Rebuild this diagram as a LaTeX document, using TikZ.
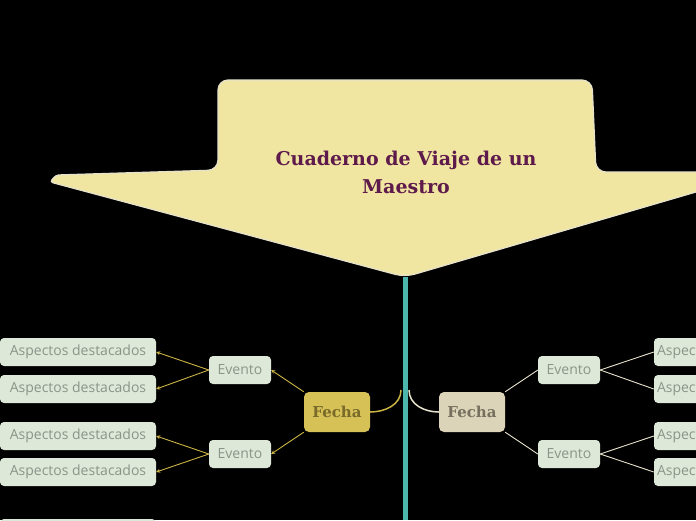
\documentclass[tikz,border=0pt]{standalone}
\usepackage{fontspec}
\setmainfont{Open Sans}
\newfontfamily\titlefont{DejaVu Serif}
\usetikzlibrary{arrows.meta}
\definecolor{bannerfill}{HTML}{F0E6A2}
\definecolor{titlecol}{HTML}{5E1A4A}
\definecolor{trunk}{HTML}{4DB6AC}
\definecolor{goldfill}{HTML}{D6C157}
\definecolor{goldtext}{HTML}{7A6A2A}
\definecolor{beigefill}{HTML}{DCD4B8}
\definecolor{beigetext}{HTML}{77705F}
\definecolor{leaffill}{HTML}{DDE8D8}
\definecolor{leaftext}{HTML}{8A9488}
\definecolor{goldline}{HTML}{CBB445}
\definecolor{paleline}{HTML}{E6E2CC}
\begin{document}
\begin{tikzpicture}[
		x=1pt, y=-1pt,
		fecha/.style={rectangle, rounded corners=5pt, minimum width=66pt, minimum height=40pt, font=\titlefont\bfseries\fontsize{15}{17}\selectfont},
		evento/.style={rectangle, rounded corners=4pt, fill=leaffill, text=leaftext, minimum width=62pt, minimum height=28pt, inner xsep=2pt, font=\fontsize{14}{16}\selectfont},
		aspecto/.style={rectangle, rounded corners=4pt, fill=leaffill, text=leaftext, minimum width=156pt, minimum height=28pt, inner xsep=2pt, font=\fontsize{14}{16}\selectfont},
		goldarrow/.style={goldline, line width=0.9pt, -{Stealth[length=4pt,width=4pt]}},
		palelink/.style={paleline, line width=0.9pt}
	]
  \fill[black] (0,0) rectangle (696,520);
  \clip (0,0) rectangle (696,520);
  % banner
  \draw[fill=bannerfill, draw=paleline, line width=1.2pt, rounded corners=10pt]
    (218,80) -- (592,80) -- (596,172) -- (720,172) -- (720,185)
    -- (405,277) [rounded corners=3pt] -- (50,182) -- (56,175) [rounded corners=10pt] -- (218,170) -- cycle;
  \node (title) [text=titlecol, align=center, font=\titlefont\bfseries\fontsize{19}{28}\selectfont] at (406,172) {Cuaderno de Viaje de un\\Maestro};
  % trunk
  \coordinate (trunk_top) at (405,277);
  \coordinate (trunk_bot) at (405,520);
  \draw[trunk, line width=5pt] (trunk_top) -- (trunk_bot);
  % fechas
  \node (fecha_l) [fecha, fill=goldfill, text=goldtext] at (337,412) {Fecha};
  \node (fecha_r) [fecha, fill=beigefill, text=beigetext] at (472,412) {Fecha};
  \coordinate (join_l) at (401,390);
  \coordinate (join_r) at (409,390);
  \draw[goldline, line width=1.5pt] (fecha_l.east) to[out=0, in=-90] (join_l);
  \draw[paleline, line width=1.5pt] (fecha_r.west) to[out=180, in=-90] (join_r);
  % eventos
  \node (ev_l1) [evento] at (240,370) {Evento};
  \node (ev_l2) [evento] at (240,454) {Evento};
  \node (ev_r1) [evento] at (569,370) {Evento};
  \node (ev_r2) [evento] at (569,454) {Evento};
  \draw[goldarrow] (fecha_l.north west) -- (ev_l1.east);
  \draw[goldarrow] (fecha_l.south west) -- (ev_l2.east);
  \draw[palelink] (fecha_r.north east) -- (ev_r1.west);
  \draw[palelink] (fecha_r.south east) -- (ev_r2.west);
  % aspectos
  \node (as_l1) [aspecto] at (78,352) {Aspectos destacados};
  \node (as_l2) [aspecto] at (78,389) {Aspectos destacados};
  \node (as_l3) [aspecto] at (78,436) {Aspectos destacados};
  \node (as_l4) [aspecto] at (78,472) {Aspectos destacados};
  \node (as_l5) [aspecto] at (78,533) {Aspectos destacados};
  \node (as_r1) [aspecto, text width=150pt] at (732,352) {Aspectos destacados};
  \node (as_r2) [aspecto, text width=150pt] at (732,389) {Aspectos destacados};
  \node (as_r3) [aspecto, text width=150pt] at (732,436) {Aspectos destacados};
  \node (as_r4) [aspecto, text width=150pt] at (732,472) {Aspectos destacados};
  \draw[goldarrow] (ev_l1.west) -- (as_l1.east);
  \draw[goldarrow] (ev_l1.west) -- (as_l2.east);
  \draw[goldarrow] (ev_l2.west) -- (as_l3.east);
  \draw[goldarrow] (ev_l2.west) -- (as_l4.east);
  \draw[palelink] (ev_r1.east) -- (as_r1.west);
  \draw[palelink] (ev_r1.east) -- (as_r2.west);
  \draw[palelink] (ev_r2.east) -- (as_r3.west);
  \draw[palelink] (ev_r2.east) -- (as_r4.west);
\end{tikzpicture}
\end{document}
